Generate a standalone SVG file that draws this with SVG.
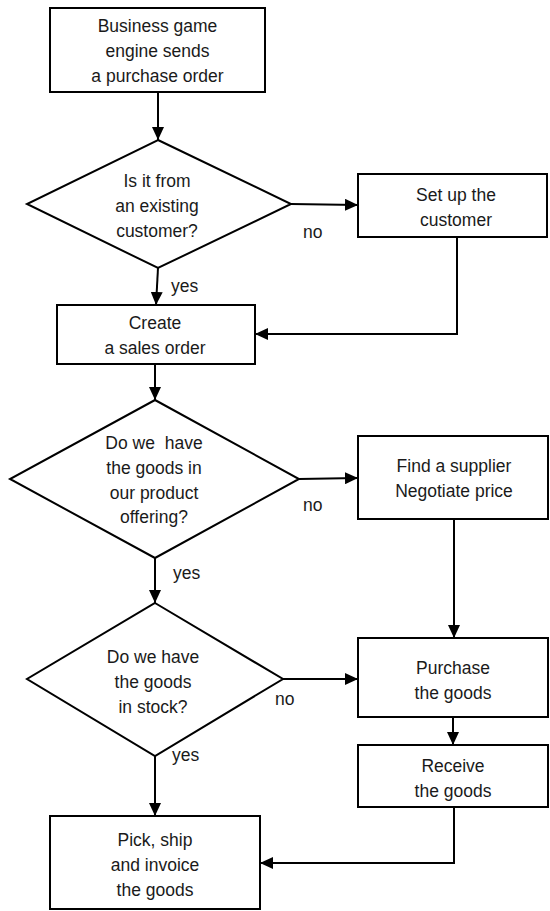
<svg xmlns="http://www.w3.org/2000/svg" width="550" height="911" viewBox="0 0 550 911">
  <style>
    .shape { fill: #ffffff; stroke: #000000; stroke-width: 2; }
    .edge { fill: none; stroke: #000000; stroke-width: 2; }
    text { font-family: "Liberation Sans", Arial, sans-serif; font-size: 17.5px; fill: #1a1a1a; text-anchor: middle; white-space: pre; }
    .lbl { text-anchor: start; }
  </style>
  <defs>
    <marker id="arrow" markerUnits="userSpaceOnUse" markerWidth="14" markerHeight="12" refX="13" refY="6" orient="auto">
      <path d="M0,0 L13,6 L0,12 Z" fill="#000000"/>
    </marker>
  </defs>

  <rect width="550" height="911" fill="#ffffff"/>

  <!-- connectors -->
  <g id="connectors">
    <line class="edge" x1="158" y1="92" x2="158" y2="140" marker-end="url(#arrow)"/>
    <line class="edge" x1="291" y1="204" x2="358" y2="205" marker-end="url(#arrow)"/>
    <line class="edge" x1="158" y1="268" x2="156" y2="305" marker-end="url(#arrow)"/>
    <polyline class="edge" points="457,237 457,334 255,334" marker-end="url(#arrow)"/>
    <line class="edge" x1="155" y1="364" x2="155" y2="400" marker-end="url(#arrow)"/>
    <line class="edge" x1="299" y1="479" x2="358" y2="478" marker-end="url(#arrow)"/>
    <line class="edge" x1="155" y1="558" x2="155" y2="603" marker-end="url(#arrow)"/>
    <line class="edge" x1="454" y1="519" x2="454" y2="638" marker-end="url(#arrow)"/>
    <line class="edge" x1="283" y1="679" x2="358" y2="679" marker-end="url(#arrow)"/>
    <line class="edge" x1="453" y1="717" x2="453" y2="745" marker-end="url(#arrow)"/>
    <polyline class="edge" points="454,807 454,863 260,863" marker-end="url(#arrow)"/>
    <line class="edge" x1="155" y1="756" x2="155" y2="816" marker-end="url(#arrow)"/>
    <!-- branch labels -->
    <text class="lbl" x="171" y="292">yes</text>
    <text class="lbl" x="303" y="238">no</text>
    <text class="lbl" x="173" y="579">yes</text>
    <text class="lbl" x="303" y="511">no</text>
    <text class="lbl" x="275" y="705">no</text>
    <text class="lbl" x="172" y="761">yes</text>
  </g>

  <g id="start">
    <rect class="shape" x="50" y="8" width="215" height="84"/>
    <text x="157.5" y="32">Business game</text>
    <text x="157.5" y="57">engine sends</text>
    <text x="157.5" y="82">a purchase order</text>
  </g>

  <g id="existing-customer">
    <polygon class="shape" points="158,140 291,204 158,268 27,204"/>
    <text x="157" y="187">Is it from</text>
    <text x="157" y="212">an existing</text>
    <text x="157" y="237">customer?</text>
  </g>

  <g id="setup-customer">
    <rect class="shape" x="358" y="174" width="189" height="63"/>
    <text x="456" y="201">Set up the</text>
    <text x="456" y="226">customer</text>
  </g>

  <g id="sales-order">
    <rect class="shape" x="57" y="305" width="198" height="59"/>
    <text x="155" y="329">Create</text>
    <text x="155" y="354">a sales order</text>
  </g>

  <g id="product-offering">
    <polygon class="shape" points="155,400 299,479 155,558 10,479"/>
    <text x="154" y="449">Do we  have</text>
    <text x="154" y="474">the goods in</text>
    <text x="154" y="499">our product</text>
    <text x="154" y="523">offering?</text>
  </g>

  <g id="find-supplier">
    <rect class="shape" x="358" y="436" width="190" height="83"/>
    <text x="454" y="472">Find a supplier</text>
    <text x="454" y="497">Negotiate price</text>
  </g>

  <g id="in-stock">
    <polygon class="shape" points="155,603 283,679 155,756 27,679"/>
    <text x="153" y="663">Do we have</text>
    <text x="153" y="688">the goods</text>
    <text x="153" y="713">in stock?</text>
  </g>

  <g id="purchase">
    <rect class="shape" x="358" y="638" width="190" height="79"/>
    <text x="453" y="674">Purchase</text>
    <text x="453" y="699">the goods</text>
  </g>

  <g id="receive">
    <rect class="shape" x="358" y="745" width="190" height="62"/>
    <text x="453" y="772">Receive</text>
    <text x="453" y="797">the goods</text>
  </g>

  <g id="pick-ship">
    <rect class="shape" x="50" y="816" width="210" height="93"/>
    <text x="155" y="846">Pick, ship</text>
    <text x="155" y="871">and invoice</text>
    <text x="155" y="896">the goods</text>
  </g>
</svg>
